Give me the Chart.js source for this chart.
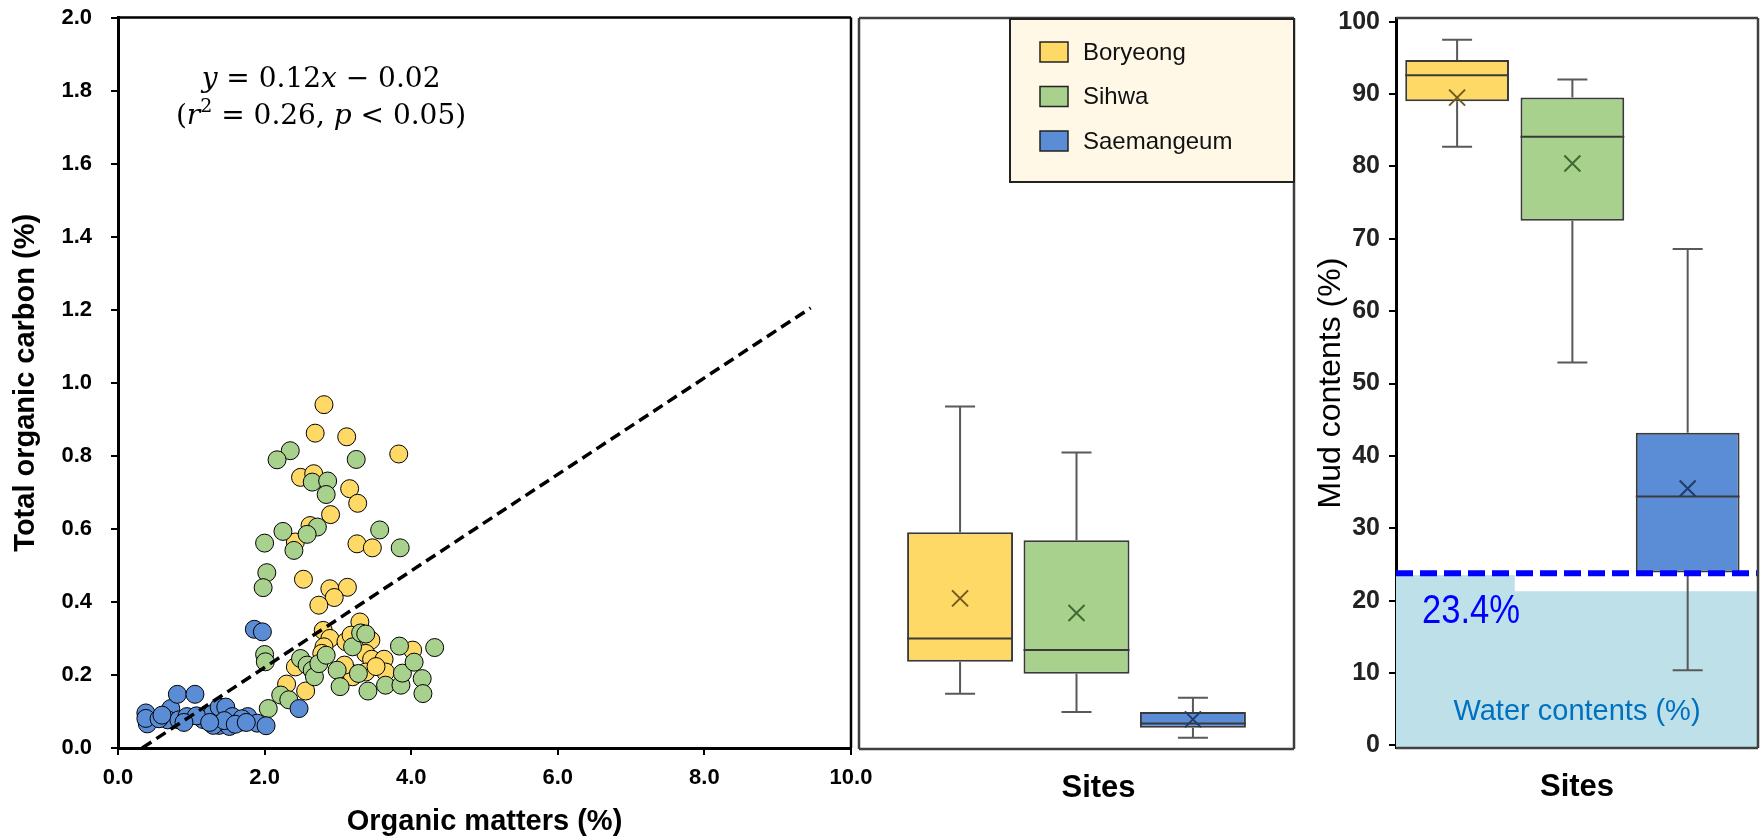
<!DOCTYPE html>
<html>
<head>
<meta charset="utf-8">
<title>TOC / OM / Mud contents</title>
<script src="https://cdn.jsdelivr.net/npm/chart.js@4.4.1/dist/chart.umd.min.js"></script>
<style>
  html, body { margin: 0; padding: 0; background: #fff; overflow: hidden; }
  body { width: 1762px; height: 836px; position: relative; }
  .panel { position: absolute; top: 0; height: 836px; }
  #p1 { left: 0; width: 900px; }
  #p2 { left: 852px; width: 448px; }
  #p3 { left: 1300px; width: 462px; }
</style>
</head>
<body>
<div class="panel" id="p1"><canvas id="chart-toc" width="900" height="836"></canvas></div>
<div class="panel" id="p2"><canvas id="chart-tocbox" width="448" height="836"></canvas></div>
<div class="panel" id="p3"><canvas id="chart-mud" width="462" height="836"></canvas></div>

<script>
var sites = ["Boryeong", "Sihwa", "Saemangeum"];

// scatter points: [organic matters %, total organic carbon %]
var boryeongPts = [
  [2.81, 0.94], [2.69, 0.862], [3.12, 0.852], [3.83, 0.805], [2.49, 0.741], [2.67, 0.751],
  [3.16, 0.71], [3.27, 0.67], [2.90, 0.639], [2.62, 0.609], [2.42, 0.564], [3.26, 0.559],
  [3.47, 0.548], [2.53, 0.462], [2.89, 0.436], [3.13, 0.44], [2.95, 0.412], [2.74, 0.391],
  [3.30, 0.345], [2.80, 0.322], [2.89, 0.300], [3.11, 0.291], [3.18, 0.309], [3.45, 0.295],
  [2.81, 0.277], [2.78, 0.259], [3.38, 0.259], [3.46, 0.243], [3.63, 0.243], [4.02, 0.268],
  [3.65, 0.208], [3.38, 0.208], [3.15, 0.208], [3.20, 0.195], [2.42, 0.222], [2.30, 0.175],
  [2.56, 0.156], [3.09, 0.227], [3.52, 0.223]
];
var sihwaPts = [
  [2.35, 0.814], [2.17, 0.789], [3.25, 0.79], [2.65, 0.728], [2.86, 0.731], [2.84, 0.694],
  [2.72, 0.605], [2.58, 0.585], [2.25, 0.593], [2.40, 0.541], [2.00, 0.561], [2.03, 0.48],
  [1.98, 0.439], [3.57, 0.597], [3.85, 0.548], [2.00, 0.256], [2.01, 0.236], [2.05, 0.108],
  [2.22, 0.145], [2.33, 0.132], [2.49, 0.245], [2.58, 0.227], [2.65, 0.213], [2.68, 0.195],
  [2.74, 0.231], [2.84, 0.254], [2.99, 0.213], [3.03, 0.168], [3.20, 0.277], [3.28, 0.204],
  [3.31, 0.315], [3.38, 0.312], [3.41, 0.156], [3.65, 0.172], [3.84, 0.279], [3.86, 0.172],
  [3.88, 0.205], [4.04, 0.235], [4.15, 0.19], [4.16, 0.149], [4.32, 0.275]
];
var saemangeumPts = [
  [0.38, 0.096], [0.40, 0.066], [0.38, 0.081], [0.72, 0.108], [0.68, 0.077], [0.81, 0.147],
  [1.05, 0.147], [0.83, 0.077], [0.94, 0.086], [1.16, 0.078], [1.29, 0.094], [1.38, 0.112],
  [1.47, 0.112], [1.38, 0.062], [1.56, 0.086], [1.52, 0.059], [1.65, 0.07], [1.77, 0.086],
  [1.90, 0.068], [2.02, 0.061], [1.86, 0.325], [1.97, 0.318], [2.47, 0.108], [1.30, 0.062],
  [1.69, 0.08], [1.07, 0.088], [0.56, 0.08], [0.60, 0.09], [1.45, 0.075], [1.60, 0.065],
  [1.25, 0.07], [1.75, 0.07], [0.90, 0.07]
];

// dashed regression line (ends as drawn)
var trendOM = [0.33, 9.45];
var trendTOC = [0.0, 1.205];

var omTicks = [0, 2, 4, 6, 8, 10];
var tocTicks = [0, 0.2, 0.4, 0.6, 0.8, 1.0, 1.2, 1.4, 1.6, 1.8, 2.0];
var mudTicks = [0, 10, 20, 30, 40, 50, 60, 70, 80, 90, 100];

// TOC box plot per site
var tocMin = [0.151, 0.101, 0.031];
var tocQ1 = [0.239, 0.206, 0.058];
var tocMedian = [0.302, 0.271, 0.070];
var tocQ3 = [0.593, 0.571, 0.101];
var tocMax = [0.937, 0.811, 0.140];
var tocMean = [0.412, 0.372, 0.081];

// mud contents box plot per site
var mudMin = [82.7, 52.9, 10.4];
var mudQ1 = [89.0, 72.5, 23.9];
var mudMedian = [92.6, 84.1, 34.4];
var mudQ3 = [94.7, 89.5, 43.2];
var mudMax = [97.5, 92.0, 68.6];
var mudMean = [89.5, 80.4, 35.5];

// water contents (shaded, one step per site) and the mean line
var waterContents = [25.7, 23.5, 21.3];
var waterLine = 23.8;
var waterLabel = "23.4%";

// styles / layout
var siteColors = ["#FFD966", "#A9D18E", "#5A8DD6"];
var meanColors = ["#6e5a1c", "#3c6a30", "#1f3c6a"];
var SANS = '"Liberation Sans", Arial, sans-serif';
var MUD_X_MIN = -0.53, MUD_X_MAX = 2.61;   // site-index extent of the mud panel

Chart.defaults.font.family = SANS;
Chart.defaults.color = "#000";
Chart.defaults.animation = false;
Chart.defaults.responsive = false;
Chart.defaults.devicePixelRatio = 1;
Chart.defaults.plugins.legend.display = false;
Chart.defaults.plugins.tooltip.enabled = false;

function toXY(pts) {
  return pts.map(function (p) { return { x: p[0], y: p[1] }; });
}

function setTicks(values) {
  return function (scale) {
    scale.ticks = values.map(function (v) { return { value: v }; });
  };
}

// steps for the water shading: site i covers i-0.5 .. i+0.5 (edges go to the frame)
function waterSteps() {
  var pts = waterContents.map(function (v, i) { return { x: i === 0 ? MUD_X_MIN : i - 0.5, y: v }; });
  pts.push({ x: MUD_X_MAX, y: waterContents[waterContents.length - 1] });
  return pts;
}

// lines around the chart area
var frame = {
  id: "frame",
  afterDraw: function (chart, args, o) {
    var a = chart.chartArea, ctx = chart.ctx;
    ctx.save();
    ctx.strokeStyle = o.color;
    ctx.lineWidth = o.width;
    ctx.beginPath();
    if (o.top) { ctx.moveTo(a.left, a.top); ctx.lineTo(a.right, a.top); }
    if (o.right) { ctx.moveTo(a.right, a.top); ctx.lineTo(a.right, a.bottom); }
    if (o.bottom) { ctx.moveTo(a.left, a.bottom); ctx.lineTo(a.right, a.bottom); }
    if (o.left) { ctx.moveTo(a.left, a.top); ctx.lineTo(a.left, a.bottom); }
    ctx.stroke();
    ctx.restore();
  }
};

// whiskers, median and mean marks on the floating bars
var boxWhiskers = {
  id: "boxWhiskers",
  afterDatasetsDraw: function (chart, args, o) {
    var ctx = chart.ctx, y = chart.scales.y;
    ctx.save();
    for (var i = 0; i < o.median.length; i++) {
      var bar = o.single ? chart.getDatasetMeta(0).data[i] : chart.getDatasetMeta(i).data[0];
      var x = bar.x, half = bar.width / 2;
      var yMin = y.getPixelForValue(o.min[i]);
      var yMax = y.getPixelForValue(o.max[i]);
      var yQ1 = y.getPixelForValue(o.q1[i]);
      var yQ3 = y.getPixelForValue(o.q3[i]);

      ctx.strokeStyle = "#595959";
      ctx.lineWidth = 2;
      ctx.beginPath();
      ctx.moveTo(x, yQ3); ctx.lineTo(x, yMax);
      ctx.moveTo(x - 15, yMax); ctx.lineTo(x + 15, yMax);
      ctx.moveTo(x, yQ1); ctx.lineTo(x, yMin);
      ctx.moveTo(x - 15, yMin); ctx.lineTo(x + 15, yMin);
      ctx.stroke();

      ctx.strokeStyle = "#3a3a3a";
      ctx.beginPath();
      var yMed = y.getPixelForValue(o.median[i]);
      ctx.moveTo(x - half, yMed); ctx.lineTo(x + half, yMed);
      ctx.stroke();

      var yMean = y.getPixelForValue(o.mean[i]);
      ctx.strokeStyle = meanColors[i];
      ctx.beginPath();
      ctx.moveTo(x - 8, yMean - 8); ctx.lineTo(x + 8, yMean + 8);
      ctx.moveTo(x + 8, yMean - 8); ctx.lineTo(x - 8, yMean + 8);
      ctx.stroke();
    }
    ctx.restore();
  }
};

// "Sites" under the box panels
var sitesTitle = {
  id: "sitesTitle",
  afterDraw: function (chart, args, o) {
    var a = chart.chartArea, ctx = chart.ctx;
    ctx.save();
    ctx.font = "bold 31px " + SANS;
    ctx.fillStyle = "#000";
    ctx.textAlign = "center";
    ctx.textBaseline = "middle";
    ctx.fillText("Sites", (a.left + a.right) / 2 + o.dx, a.bottom + 39);
    ctx.restore();
  }
};

function drawMath(ctx, parts, cx, baseline, size) {
  var fam = '"DejaVu Serif", "Liberation Serif", serif';
  function fontFor(st) {
    if (st === "i") return "italic " + size + "px " + fam;
    if (st === "s") return Math.round(size * 0.68) + "px " + fam;
    return size + "px " + fam;
  }
  var total = 0;
  parts.forEach(function (p) { ctx.font = fontFor(p[1]); total += ctx.measureText(p[0]).width; });
  var x = cx - total / 2;
  parts.forEach(function (p) {
    ctx.font = fontFor(p[1]);
    ctx.fillText(p[0], x, p[1] === "s" ? baseline - size * 0.42 : baseline);
    x += ctx.measureText(p[0]).width;
  });
}

var equation = {
  id: "equation",
  afterDraw: function (chart) {
    var ctx = chart.ctx, xs = chart.scales.x, ys = chart.scales.y;
    var cx = xs.getPixelForValue(2.77);
    ctx.save();
    ctx.fillStyle = "#000";
    ctx.textAlign = "left";
    ctx.textBaseline = "alphabetic";
    drawMath(ctx, [["y", "i"], [" = 0.12", "n"], ["x", "i"], [" \u2212 0.02", "n"]],
      cx, ys.getPixelForValue(1.811), 28);
    drawMath(ctx, [["(", "n"], ["r", "i"], ["2", "s"], [" = 0.26, ", "n"], ["p", "i"], [" < 0.05)", "n"]],
      cx, ys.getPixelForValue(1.708), 28);
    ctx.restore();
  }
};

// legend box in the TOC box panel
var boxLegend = {
  id: "boxLegend",
  afterDraw: function (chart) {
    var a = chart.chartArea, ctx = chart.ctx;
    var w = 284, h = 163, x0 = a.right - w, y0 = a.top + 1;
    ctx.save();
    ctx.fillStyle = "#FFF8E7";
    ctx.fillRect(x0, y0, w, h);
    ctx.strokeStyle = "#222";
    ctx.lineWidth = 2;
    ctx.strokeRect(x0, y0, w, h);
    ctx.font = "24px " + SANS;
    ctx.textBaseline = "middle";
    chart.data.datasets.forEach(function (ds, i) {
      var sy = y0 + 23 + i * 44.5;
      ctx.fillStyle = ds.backgroundColor;
      ctx.fillRect(x0 + 30, sy, 28, 20);
      ctx.lineWidth = 1.5;
      ctx.strokeRect(x0 + 30, sy, 28, 20);
      ctx.fillStyle = "#111";
      ctx.fillText(ds.label, x0 + 73, sy + 11);
    });
    ctx.restore();
  }
};

// dashed water line and labels in the mud panel
var waterMarks = {
  id: "waterMarks",
  afterDatasetsDraw: function (chart) {
    var a = chart.chartArea, ctx = chart.ctx, y = chart.scales.y;
    var yl = y.getPixelForValue(waterLine);
    ctx.save();
    ctx.strokeStyle = "#0000FF";
    ctx.lineWidth = 6;
    ctx.setLineDash([17, 7]);
    ctx.beginPath();
    ctx.moveTo(a.left, yl);
    ctx.lineTo(a.right, yl);
    ctx.stroke();
    ctx.setLineDash([]);

    ctx.fillStyle = "#0000FF";
    ctx.font = "40px " + SANS;
    ctx.textBaseline = "alphabetic";
    ctx.translate(a.left + 26, yl + 50);
    ctx.scale(0.865, 1);
    ctx.fillText(waterLabel, 0, 0);
    ctx.restore();

    ctx.save();
    ctx.fillStyle = "#0070C0";
    ctx.font = "29px " + SANS;
    ctx.textAlign = "center";
    ctx.fillText("Water contents (%)", (a.left + a.right) / 2, y.getPixelForValue(3.5));
    ctx.restore();
  }
};

function scatterSet(label, pts, color, order) {
  return {
    label: label,
    data: toXY(pts),
    backgroundColor: color,
    borderColor: "#000",
    borderWidth: 1,
    pointRadius: 9,
    order: order
  };
}

// panel 1: TOC vs OM
var chartToc = new Chart(document.getElementById("chart-toc"), {
  type: "scatter",
  data: {
    datasets: [
      {
        type: "line",
        label: "trend",
        data: [{ x: trendOM[0], y: trendTOC[0] }, { x: trendOM[1], y: trendTOC[1] }],
        borderColor: "#000",
        borderWidth: 3.5,
        borderDash: [11, 6],
        pointRadius: 0,
        fill: false,
        order: 0
      },
      scatterSet(sites[2], saemangeumPts, siteColors[2], 1),
      scatterSet(sites[1], sihwaPts, siteColors[1], 2),
      scatterSet(sites[0], boryeongPts, siteColors[0], 3)
    ]
  },
  options: {
    layout: { padding: { left: 0, top: 17.5, right: 49, bottom: 0 } },
    scales: {
      x: {
        type: "linear",
        min: 0,
        max: 10,
        afterBuildTicks: setTicks(omTicks),
        afterFit: function (s) { s.height = 88; s.paddingLeft = 0; s.paddingRight = 0; },
        ticks: {
          padding: 10,
          font: { size: 22, weight: "bold" },
          callback: function (v) { return Number(v).toFixed(1); }
        },
        grid: { drawOnChartArea: false, tickLength: 7, color: "#000", lineWidth: 2 },
        border: { color: "#000", width: 3 },
        title: {
          display: true,
          text: "Organic matters (%)",
          font: { size: 29, weight: "bold", lineHeight: 1 },
          padding: { top: 0, bottom: 0 }
        }
      },
      y: {
        min: 0,
        max: 2,
        afterBuildTicks: setTicks(tocTicks),
        afterFit: function (s) { s.width = 118; s.paddingTop = 0; s.paddingBottom = 0; },
        ticks: {
          padding: 19,
          font: { size: 22, weight: "bold" },
          callback: function (v) { return Number(v).toFixed(1); }
        },
        grid: { drawOnChartArea: false, tickLength: 7, color: "#000", lineWidth: 2 },
        border: { color: "#000", width: 3 },
        title: {
          display: true,
          text: "Total organic carbon (%)",
          font: { size: 29, weight: "bold", lineHeight: 1 },
          padding: { top: 11, bottom: 0 }
        }
      }
    },
    plugins: {
      frame: { color: "#000", width: 2.5, top: true, right: true }
    }
  },
  plugins: [frame, equation]
});

// panel 2: TOC box plot (same TOC scale, no axis), one grouped bar per site
var chartTocBox = new Chart(document.getElementById("chart-tocbox"), {
  type: "bar",
  data: {
    labels: ["Sites"],
    datasets: [0, 1, 2].map(function (i) {
      return {
        label: sites[i],
        data: [[tocQ1[i], tocQ3[i]]],
        backgroundColor: siteColors[i],
        borderColor: "#3a3a3a",
        borderWidth: 2,
        borderSkipped: false,
        barPercentage: 0.91,
        categoryPercentage: 0.803
      };
    })
  },
  options: {
    layout: { padding: { left: 7, top: 18, right: 6, bottom: 87 } },
    scales: {
      x: { display: false },
      y: { display: false, min: 0, max: 2 }
    },
    plugins: {
      frame: { color: "#3f3f3f", width: 2.5, top: true, right: true, bottom: true, left: true },
      boxWhiskers: { min: tocMin, q1: tocQ1, median: tocMedian, q3: tocQ3, max: tocMax, mean: tocMean },
      sitesTitle: { dx: 22 }
    }
  },
  plugins: [boxWhiskers, frame, boxLegend, sitesTitle]
});

// panel 3: mud contents box plot with water contents shading (x = site index)
var chartMud = new Chart(document.getElementById("chart-mud"), {
  type: "bar",
  data: {
    datasets: [
      {
        label: "Mud contents (%)",
        data: sites.map(function (s, i) { return { x: i, y: [mudQ1[i], mudQ3[i]] }; }),
        backgroundColor: siteColors,
        borderColor: "#3a3a3a",
        borderWidth: 2,
        borderSkipped: false,
        barPercentage: 0.9,
        categoryPercentage: 1,
        order: 0
      },
      {
        type: "line",
        label: "Water contents (%)",
        data: waterSteps(),
        stepped: "after",
        fill: "start",
        backgroundColor: "#BEE0E8",
        borderColor: "rgba(0,0,0,0)",
        borderWidth: 0,
        pointRadius: 0,
        order: 10
      }
    ]
  },
  options: {
    layout: { padding: { left: 0, top: 18, right: 4, bottom: 88 } },
    scales: {
      x: {
        type: "linear",
        min: MUD_X_MIN,
        max: MUD_X_MAX,
        offset: false,
        display: false,
        afterBuildTicks: setTicks([0, 1, 2])
      },
      y: {
        min: -0.35,
        max: 100.5,
        z: 1,
        afterBuildTicks: setTicks(mudTicks),
        afterFit: function (s) { s.width = 96; s.paddingTop = 0; s.paddingBottom = 0; },
        ticks: { padding: 9, color: "#222", font: { size: 25, weight: "bold" } },
        grid: { drawOnChartArea: false, tickLength: 7, color: "#000", lineWidth: 2 },
        border: { color: "#000", width: 3 },
        title: {
          display: true,
          text: "Mud contents (%)",
          font: { size: 32, lineHeight: 1 },
          padding: { top: 15, bottom: 0 }
        }
      }
    },
    plugins: {
      frame: { color: "#404040", width: 2.5, top: true, right: true, bottom: true },
      boxWhiskers: { single: true, min: mudMin, q1: mudQ1, median: mudMedian, q3: mudQ3, max: mudMax, mean: mudMean },
      sitesTitle: { dx: 0 }
    }
  },
  plugins: [boxWhiskers, waterMarks, frame, sitesTitle]
});
</script>
</body>
</html>
